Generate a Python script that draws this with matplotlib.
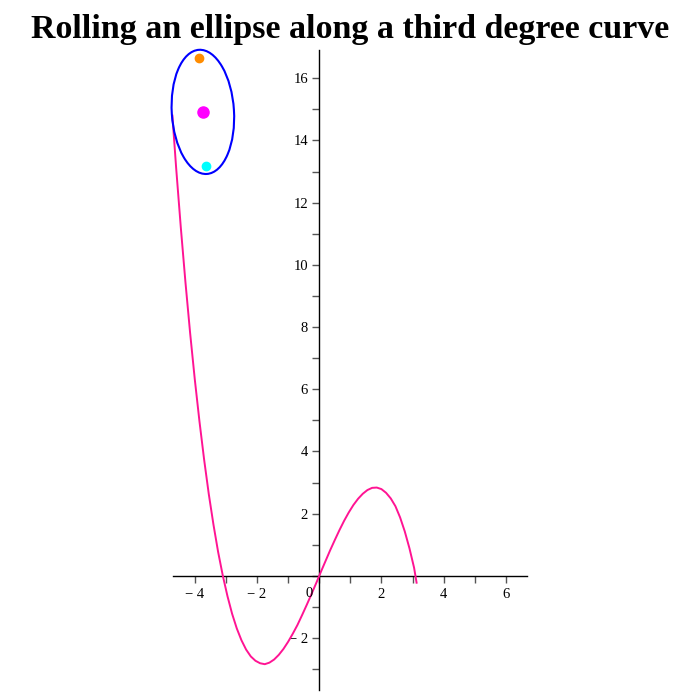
import matplotlib
matplotlib.use("Agg")
import matplotlib.pyplot as plt
from matplotlib.patches import Ellipse
from matplotlib.ticker import MultipleLocator, FuncFormatter

# Curve points
curve_x = [-4.72, -4.60, -4.45, -4.30, -4.15, -4.00, -3.85, -3.70, -3.55, -3.40, -3.25, -3.10,
           -2.95, -2.80, -2.65, -2.50, -2.35, -2.20, -2.05, -1.90, -1.75, -1.60, -1.45, -1.30,
           -1.15, -1.00, -0.85, -0.70, -0.55, -0.40, -0.25, -0.10, 0.05, 0.20, 0.35, 0.50,
           0.65, 0.80, 0.95, 1.10, 1.25, 1.40, 1.55, 1.70, 1.85, 2.00, 2.15, 2.30, 2.45,
           2.60, 2.75, 2.90, 3.05, 3.13]
curve_y = [14.80, 13.13, 11.21, 9.44, 7.81, 6.32, 4.97, 3.74, 2.63, 1.65, 0.77, 0.01,
           -0.65, -1.22, -1.69, -2.07, -2.37, -2.59, -2.73, -2.81, -2.84, -2.79, -2.69, -2.54,
           -2.35, -2.12, -1.86, -1.58, -1.26, -0.93, -0.59, -0.24, 0.12, 0.47, 0.82, 1.15,
           1.47, 1.77, 2.04, 2.28, 2.48, 2.64, 2.76, 2.83, 2.84, 2.79, 2.67, 2.49, 2.24,
           1.88, 1.43, 0.89, 0.26, -0.22]

# Ellipse (semi-axes, centre, tilt) and marker points
ell_center = (-3.74, 14.92)
ell_semi_major = 2.0
ell_semi_minor = 1.0
ell_angle = 93.6
focus_top = (-3.85, 16.65)
focus_bottom = (-3.63, 13.19)

x_major_ticks = [-4, -2, 0, 2, 4, 6]
y_major_ticks = [-2, 2, 4, 6, 8, 10, 12, 14, 16]

fig = plt.figure(figsize=(7, 7), dpi=100)
ax = fig.add_axes([172.7 / 700, 10 / 700, 354 / 700, 640 / 700])
ax.set_xlim(-4.71, 6.67)
ax.set_ylim(-3.67, 16.91)

ax.plot(curve_x, curve_y, color="#FF1493", lw=1.4, zorder=3, clip_on=False)
ax.add_patch(Ellipse(ell_center, 2 * ell_semi_major, 2 * ell_semi_minor, angle=ell_angle,
                     fill=False, edgecolor="#0000FF", lw=1.5, zorder=4, clip_on=False))
ax.plot([ell_center[0]], [ell_center[1]], "o", color="#FF00FF", ms=8, zorder=5, clip_on=False)
ax.plot([focus_top[0]], [focus_top[1]], "o", color="#FF8C00", ms=6, zorder=5, clip_on=False)
ax.plot([focus_bottom[0]], [focus_bottom[1]], "o", color="#00FFFF", ms=6, zorder=5, clip_on=False)

for s in ["top", "right"]:
    ax.spines[s].set_visible(False)
ax.spines["left"].set_position(("data", 0))
ax.spines["bottom"].set_position(("data", 0))
ax.spines["left"].set_linewidth(1.0)
ax.spines["bottom"].set_linewidth(1.0)

ax.set_xticks(x_major_ticks)
ax.set_yticks(y_major_ticks)
ax.xaxis.set_minor_locator(MultipleLocator(1))
ax.yaxis.set_minor_locator(MultipleLocator(1))

def fmt(v, pos):
    v = int(round(v))
    if v == 0:
        return ""
    return ("\u2212 %d" % -v) if v < 0 else "%d" % v

ax.xaxis.set_major_formatter(FuncFormatter(fmt))
ax.yaxis.set_major_formatter(FuncFormatter(fmt))
ax.tick_params(axis="both", which="major", length=5, width=1, color="#555555",
               labelsize=10.5, direction="out")
ax.tick_params(axis="both", which="minor", length=5, width=1, color="#555555", direction="out")
for lab in ax.get_xticklabels() + ax.get_yticklabels():
    lab.set_family("Liberation Serif")
ax.tick_params(axis="x", pad=4)
ax.tick_params(axis="y", pad=3)
ax.annotate("0", xy=(0, 0), xytext=(-10, -11), textcoords="offset pixels",
            ha="center", va="top", fontsize=10.5, family="Liberation Serif")
ax.set_facecolor("white")

fig.text(0.5, 0.958, "Rolling an ellipse along a third degree curve", ha="center", va="center",
         fontsize=24.5, fontweight="bold", family="Liberation Serif")

fig.savefig("out.png", dpi=100, facecolor="white")
